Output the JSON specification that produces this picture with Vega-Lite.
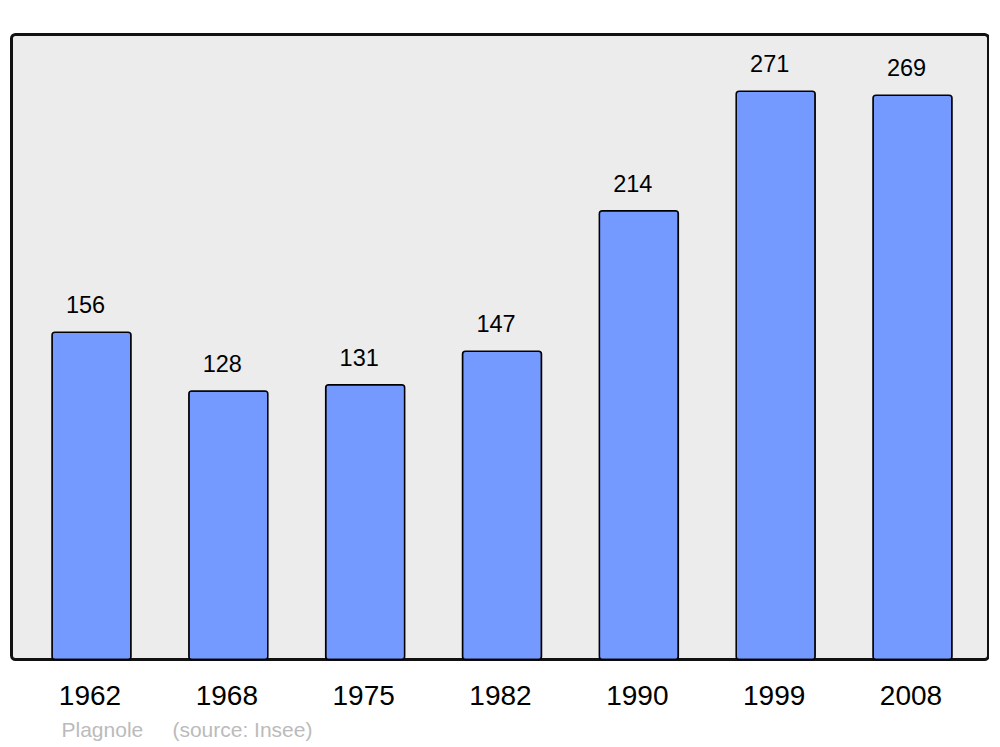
{
  "$schema": "https://vega.github.io/schema/vega-lite/v6.json",
  "width": 977,
  "height": 625,
  "padding": {"left": 11.5, "top": 34.5, "right": 0, "bottom": 0},
  "background": "#ffffff",
  "config": {
    "view": {"fill": "#ececec", "stroke": "#111111", "strokeWidth": 3, "cornerRadius": 4},
    "font": "Liberation Sans"
  },
  "title": {
    "text": "Plagnole\u00a0\u00a0\u00a0\u00a0\u00a0(source: Insee)",
    "orient": "bottom",
    "anchor": "start",
    "frame": "group",
    "color": "#bbbbbb",
    "fontSize": 21,
    "fontWeight": "normal",
    "font": "Liberation Sans",
    "baseline": "alphabetic",
    "dx": 50,
    "offset": 26
  },
  "data": {
    "values": [
      {"year": "1962", "pop": 156},
      {"year": "1968", "pop": 128},
      {"year": "1975", "pop": 131},
      {"year": "1982", "pop": 147},
      {"year": "1990", "pop": 214},
      {"year": "1999", "pop": 271},
      {"year": "2008", "pop": 269}
    ]
  },
  "encoding": {
    "x": {
      "field": "year",
      "type": "ordinal",
      "sort": null,
      "scale": {"paddingInner": 0.4227, "paddingOuter": 0.2814, "align": 0.526},
      "axis": {
        "title": null,
        "ticks": false,
        "domain": false,
        "labelAngle": 0,
        "labelFontSize": 28,
        "labelColor": "#000000",
        "labelFont": "Liberation Sans",
        "labelBaseline": "alphabetic",
        "labelPadding": 45,
        "labelOffset": -1.5
      }
    },
    "y": {
      "field": "pop",
      "type": "quantitative",
      "scale": {"domain": [0, 298], "nice": false, "zero": true},
      "axis": null
    }
  },
  "layer": [
    {
      "mark": {"type": "bar", "fill": "#7499ff", "stroke": "#000000", "strokeWidth": 1.5, "cornerRadius": 3}
    },
    {
      "mark": {"type": "text", "fontSize": 23.5, "baseline": "alphabetic", "dy": -19, "dx": -6, "color": "#000000", "font": "Liberation Sans"},
      "encoding": {"text": {"field": "pop", "type": "quantitative"}}
    }
  ]
}
